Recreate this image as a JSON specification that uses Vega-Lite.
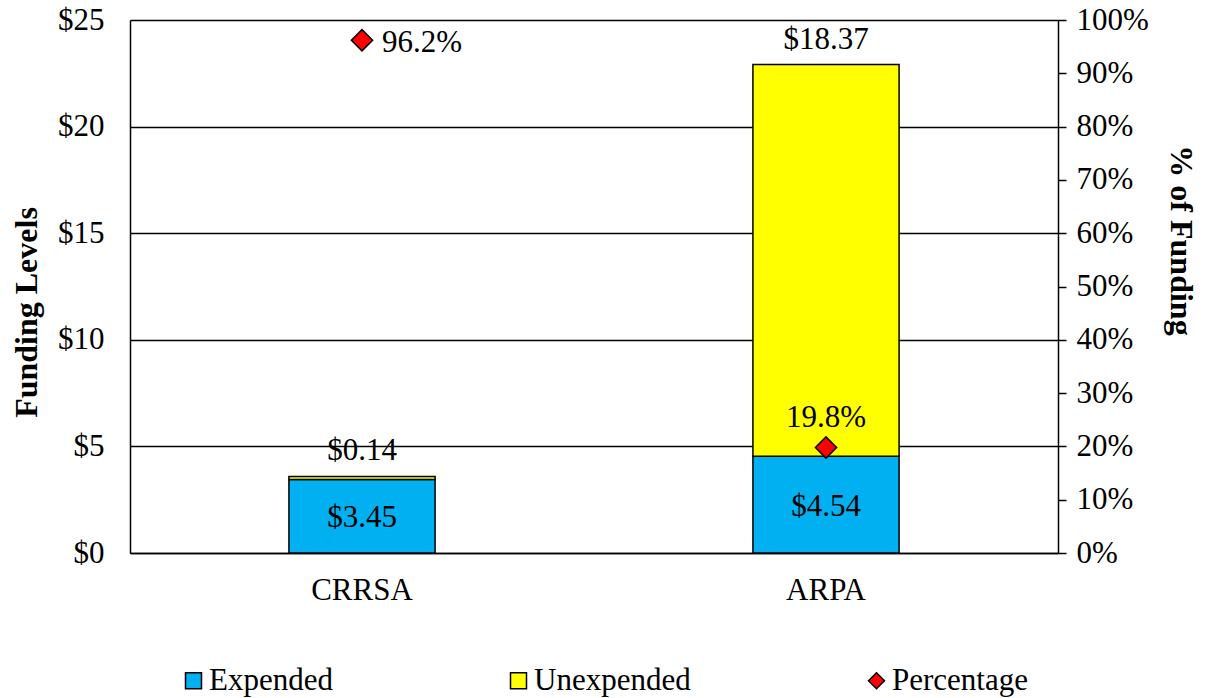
{
  "$schema": "https://vega.github.io/schema/vega-lite/v6.json",
  "width": 928,
  "height": 533,
  "autosize": {"type": "none"},
  "padding": {"left": 130, "top": 20, "right": 147, "bottom": 145},
  "background": "white",
  "config": {
    "view": {"stroke": null},
    "font": "Liberation Serif",
    "text": {"font": "Liberation Serif", "fontSize": 31, "color": "black"}
  },
  "datasets": {
    "funds": [
      {"program": "CRRSA", "type": "Expended", "value": 3.45, "label": "$3.45"},
      {"program": "CRRSA", "type": "Unexpended", "value": 0.14, "label": "$0.14"},
      {"program": "ARPA", "type": "Expended", "value": 4.54, "label": "$4.54"},
      {"program": "ARPA", "type": "Unexpended", "value": 18.37, "label": "$18.37"}
    ],
    "pct": [
      {"program": "CRRSA", "pct": 0.962, "label": "96.2%"},
      {"program": "ARPA", "pct": 0.198, "label": "19.8%"}
    ]
  },
  "encoding": {
    "x": {
      "field": "program",
      "type": "nominal",
      "sort": ["CRRSA", "ARPA"],
      "scale": {"paddingInner": 0, "paddingOuter": 0},
      "axis": {
        "title": null,
        "labelAngle": 0,
        "ticks": false,
        "labelPadding": 22,
        "labelFontSize": 31,
        "labelFont": "Liberation Serif",
        "labelColor": "black",
        "domainColor": "black",
        "domainWidth": 1.5,
        "grid": false
      }
    }
  },
  "layer": [
    {
      "data": {"name": "funds"},
      "mark": {"type": "bar", "stroke": "black", "strokeWidth": 1.5, "width": {"band": 0.315}},
      "encoding": {
        "y": {
          "field": "value",
          "type": "quantitative",
          "stack": "zero",
          "scale": {"domain": [0, 25], "nice": false},
          "axis": {
            "orient": "left",
            "values": [0, 5, 10, 15, 20, 25],
            "format": "$.0f",
            "grid": true,
            "gridColor": "black",
            "gridWidth": 1.5,
            "ticks": false,
            "domainColor": "black",
            "domainWidth": 1.5,
            "labelPadding": 26,
            "labelFontSize": 31,
            "labelFont": "Liberation Serif",
            "labelColor": "black",
            "title": "Funding Levels",
            "titleFont": "Liberation Serif",
            "titleFontSize": 32,
            "titleFontWeight": "bold",
            "titleColor": "black",
            "titlePadding": 14,
            "titleY": 292
          }
        },
        "color": {
          "field": "type",
          "type": "nominal",
          "scale": {"domain": ["Expended", "Unexpended", "Percentage"], "range": ["#00B0F0", "#FFFF00", "#FF0000"]},
          "legend": {
            "title": null,
            "orient": "none",
            "legendX": 48,
            "legendY": 645,
            "direction": "horizontal",
            "columns": 3,
            "columnPadding": 170,
            "labelFontSize": 31,
            "labelFont": "Liberation Serif",
            "labelColor": "black",
            "labelOffset": 0,
            "symbolSize": 256,
            "symbolType": "square",
            "symbolStrokeColor": "black",
            "symbolStrokeWidth": 1.5,
            "symbolOpacity": 1,
            "encode": {
              "symbols": {
                "update": {
                  "shape": {"signal": "datum.label === 'Percentage' ? 'diamond' : 'square'"},
                  "stroke": {"value": "black"},
                  "strokeWidth": {"value": 1.5}
                }
              }
            }
          }
        },
        "order": {"field": "type", "sort": "ascending"}
      }
    },
    {
      "data": {"name": "funds"},
      "transform": [{"filter": "datum.type === 'Expended'"}],
      "mark": {"type": "text", "baseline": "middle", "align": "center", "dy": 2},
      "encoding": {
        "y": {"field": "value", "type": "quantitative", "scale": {"domain": [0, 50], "nice": false}, "axis": null},
        "text": {"field": "label"}
      }
    },
    {
      "data": {"name": "funds"},
      "transform": [
        {"stack": "value", "groupby": ["program"], "sort": [{"field": "type", "order": "ascending"}], "as": ["v0", "v1"]},
        {"filter": "datum.type === 'Unexpended'"}
      ],
      "mark": {"type": "text", "baseline": "middle", "align": "center", "dy": -25},
      "encoding": {
        "y": {"field": "v1", "type": "quantitative", "scale": {"domain": [0, 25], "nice": false}, "axis": null},
        "text": {"field": "label"}
      }
    },
    {
      "data": {"name": "pct"},
      "mark": {"type": "point", "shape": "diamond", "filled": true, "fill": "#FF0000", "stroke": "black", "strokeWidth": 1.5, "size": 450, "opacity": 1},
      "encoding": {
        "y": {
          "field": "pct",
          "type": "quantitative",
          "scale": {"domain": [0, 1], "nice": false},
          "axis": {
            "orient": "right",
            "values": [0, 0.1, 0.2, 0.3, 0.4, 0.5, 0.6, 0.7, 0.8, 0.9, 1],
            "format": ".0%",
            "grid": false,
            "ticks": true,
            "tickSize": 8,
            "tickColor": "black",
            "tickWidth": 1.5,
            "domainColor": "black",
            "domainWidth": 1.5,
            "labelPadding": 10,
            "labelFontSize": 31,
            "labelFont": "Liberation Serif",
            "labelColor": "black",
            "title": "% of Funding",
            "titleAngle": 90,
            "titleFont": "Liberation Serif",
            "titleFontSize": 32,
            "titleFontWeight": "bold",
            "titleColor": "black",
            "titlePadding": 15,
            "titleY": 220
          }
        }
      }
    },
    {
      "data": {"name": "pct"},
      "transform": [{"filter": "datum.program === 'ARPA'"}],
      "mark": {"type": "text", "baseline": "middle", "align": "center", "dy": -29},
      "encoding": {
        "y": {"field": "pct", "type": "quantitative", "scale": {"domain": [0, 1], "nice": false}, "axis": null},
        "text": {"field": "label"}
      }
    },
    {
      "data": {"name": "pct"},
      "transform": [{"filter": "datum.program === 'CRRSA'"}],
      "mark": {"type": "text", "baseline": "middle", "align": "left", "dx": 20, "dy": 3},
      "encoding": {
        "y": {"field": "pct", "type": "quantitative", "scale": {"domain": [0, 1], "nice": false}, "axis": null},
        "text": {"field": "label"}
      }
    }
  ],
  "resolve": {"scale": {"y": "independent"}}
}
